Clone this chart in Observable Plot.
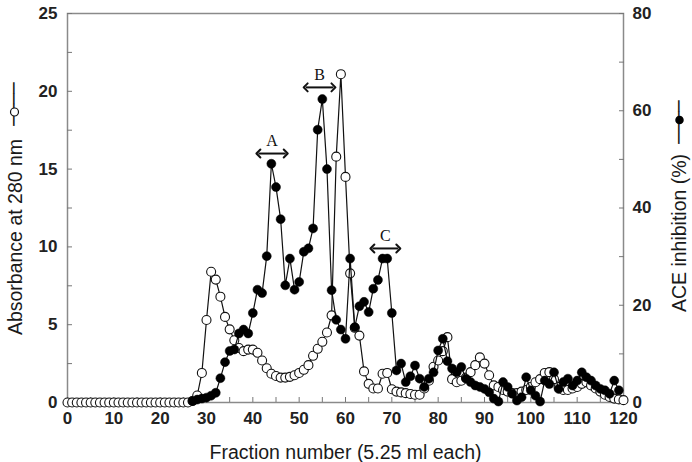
<!DOCTYPE html>
<html><head><meta charset="utf-8">
<script src="https://cdn.jsdelivr.net/npm/d3@7"></script>
<script src="https://cdn.jsdelivr.net/npm/@observablehq/plot@0.6"></script>
<style>
body{margin:0;background:#fff;}
#chart svg{display:block;}
</style></head><body><div id="chart"></div>
<script>
// Absorbance at 280 nm, fractions 0..120
const absorbance = [
  0,0,0,0,0,0,0,0,0,0, 0,0,0,0,0,0,0,0,0,0, 0,0,0,0,0,0,0,
  0.1,0.45,1.9,5.3,8.4,7.9,6.8,5.5,4.7,4.0,3.5,3.3,3.4,3.4,3.2,2.7,2.2,1.85,1.7,1.6,1.6,1.65,1.75,1.9,
  2.1,2.4,3.0,3.45,3.9,4.5,5.6,15.8,21.1,14.5,8.3,4.8,4.3,2.0,1.2,0.9,0.9,1.85,1.9,0.85,
  0.7,0.65,0.6,0.55,0.5,0.5,0.9,1.4,2.3,2.7,3.3,4.2,1.5,1.3,1.4,1.6,1.95,2.4,2.9,2.5,
  1.75,1.1,1.0,0.8,0.7,0.6,0.6,0.7,0.8,1.0,1.3,1.5,1.9,1.95,1.5,1.0,0.8,0.8,0.9,1.0,
  1.2,1.3,1.1,0.9,0.7,0.5,0.35,0.25,0.2,0.15
];
const absFractions = absorbance.map((_, i) => i);

// ACE inhibition (%), fractions 27..119
const aceStart = 27;
const aceInhibition = [
  0.3,0.6,0.8,1.0,1.4,2.0,5.0,8.3,10.6,10.9,14.2,15.0,14.2,18.4,23.2,22.5,30.1,49.1,44.3,37.7,
  24.1,29.6,23.2,24.8,31.0,31.7,35.8,56.1,62.4,48.0,23.1,17.0,15.0,13.1,29.6,15.5,19.8,20.7,18.6,23.4,
  25.2,29.6,29.6,18.4,6.6,8.0,4.2,5.4,7.6,4.9,3.2,4.9,6.2,10.7,13.1,8.5,7.0,6.2,7.3,4.9,
  4.2,3.5,3.2,2.8,2.1,0.8,0.2,4.2,3.2,1.8,0.4,1.1,5.2,2.5,1.4,0.2,4.5,3.8,6.2,2.8,
  4.2,4.9,3.5,4.5,6.2,5.2,4.5,3.5,2.8,2.5,1.8,4.5,2.5
];
const aceFractions = aceInhibition.map((_, i) => i + aceStart);

const xTickLabels = [0,10,20,30,40,50,60,70,80,90,100,110,120];
const xMinorTicks = [0,5,10,15,20,25,30,35,40,45,50,55,60,65,70,75,80,85,90,95,100,105,110,115,120];
const leftTickLabels = [0,5,10,15,20,25];
const leftMinorTicks = [0,2.5,5,7.5,10,12.5,15,17.5,20,22.5,25];
const rightTickLabels = [0,20,40,60,80];
const rightMinorTicks = [0,10,20,30,40,50,60,70,80];
const peakLabels = ["A","B","C"];
const peakFrom = [41.2, 51.4, 65.8];
const peakTo = [47.1, 57.4, 71.4];
const peakLevel = [16.0, 20.25, 9.9];
const xTitle = "Fraction number (5.25 ml each)";
const leftTitle = "Absorbance at 280 nm";
const rightTitle = "ACE inhibition (%)";

const ABS_MAX = 25, ACE_MAX = 80;
const toAbs = v => v * ABS_MAX / ACE_MAX;

const absData = absFractions.map((f, i) => ({f, v: absorbance[i]}));
const aceData = aceFractions.map((f, i) => ({f, v: toAbs(aceInhibition[i])}));
const peaks = peakLabels.map((label, i) => ({label, from: peakFrom[i], to: peakTo[i], level: peakLevel[i]}));

const sans = "'Liberation Sans', Arial, sans-serif";
const axisText = {fontSize: 17, fontWeight: "bold", fill: "#222", fontFamily: sans};
const titleText = {fontSize: 19.5, fill: "#1a1a1a", fontFamily: sans, textAnchor: "middle", lineAnchor: "middle", text: d => d};
const symLine = {fontSize: 18, fontWeight: "bold", fill: "#111", fontFamily: "'DejaVu Sans Mono', monospace", rotate: -90,
  textAnchor: "middle", lineAnchor: "middle", text: d => d};

const plot = Plot.plot({
  width: 692, height: 462,
  marginLeft: 67, marginRight: 69, marginTop: 13, marginBottom: 60,
  style: {fontFamily: sans, background: "#fff", overflow: "visible"},
  x: {domain: [0, 120]},
  y: {domain: [0, ABS_MAX]},
  marks: [
    Plot.frame({stroke: "#8a8a8a", strokeWidth: 1.5}),
    Plot.axisX({ticks: xMinorTicks, tickSize: -5, tickFormat: () => "", stroke: "#777", label: null}),
    Plot.axisX({ticks: xTickLabels, tickSize: 0, tickPadding: 9, label: null, ...axisText}),
    Plot.axisY({ticks: leftMinorTicks, tickSize: -5, tickFormat: () => "", stroke: "#777", label: null}),
    Plot.axisY({ticks: leftTickLabels, tickSize: 0, tickPadding: 10, label: null, ...axisText}),
    Plot.axisY({anchor: "right", ticks: rightMinorTicks.map(toAbs), tickSize: -5, tickFormat: () => "", stroke: "#777", label: null}),
    Plot.axisY({anchor: "right", ticks: rightTickLabels.map(toAbs), tickSize: 0, tickPadding: 9, label: null,
      tickFormat: d => String(Math.round(d * ACE_MAX / ABS_MAX)), ...axisText}),
    Plot.line(absData, {x: "f", y: "v", stroke: "#111", strokeWidth: 1.2}),
    Plot.dot(absData, {x: "f", y: "v", r: 4.5, fill: "#fff", stroke: "#111", strokeWidth: 1.1}),
    Plot.line(aceData, {x: "f", y: "v", stroke: "#111", strokeWidth: 1.2}),
    Plot.dot(aceData, {x: "f", y: "v", r: 4.5, fill: "#000", stroke: "#000", strokeWidth: 0.5}),
    Plot.link(peaks, {x1: "from", x2: "to", y1: "level", y2: "level", stroke: "#111", strokeWidth: 2,
      markerStart: "arrow-reverse", markerEnd: "arrow"}),
    Plot.text(peaks, {x: d => (d.from + d.to) / 2, y: "level", dy: -13, text: "label",
      fontFamily: "'Liberation Serif', 'DejaVu Serif', serif", fontSize: 16, fill: "#111"}),
    Plot.text([xTitle], {frameAnchor: "bottom", dy: 50, ...titleText}),
    Plot.text([leftTitle], {frameAnchor: "left", dx: -52, dy: 29, rotate: -90, ...titleText}),
    Plot.text([rightTitle], {frameAnchor: "right", dx: 56, dy: 25, rotate: -90, ...titleText}),
    // legend symbols beside the axis titles
    Plot.text(["\u2500\u2500\u2500\u2500"], {frameAnchor: "left", dx: -53, dy: -104, ...symLine}),
    Plot.dot([0], {frameAnchor: "left", dx: -53, dy: -96, r: 4, fill: "#fff", stroke: "#111", strokeWidth: 1.2}),
    Plot.text(["\u2500\u2500\u2500\u2500"], {frameAnchor: "right", dx: 56, dy: -86, ...symLine}),
    Plot.dot([0], {frameAnchor: "right", dx: 56, dy: -88, r: 3.5, fill: "#000", stroke: "#000"})
  ]
});
document.getElementById("chart").append(plot);
</script>
</body></html>
